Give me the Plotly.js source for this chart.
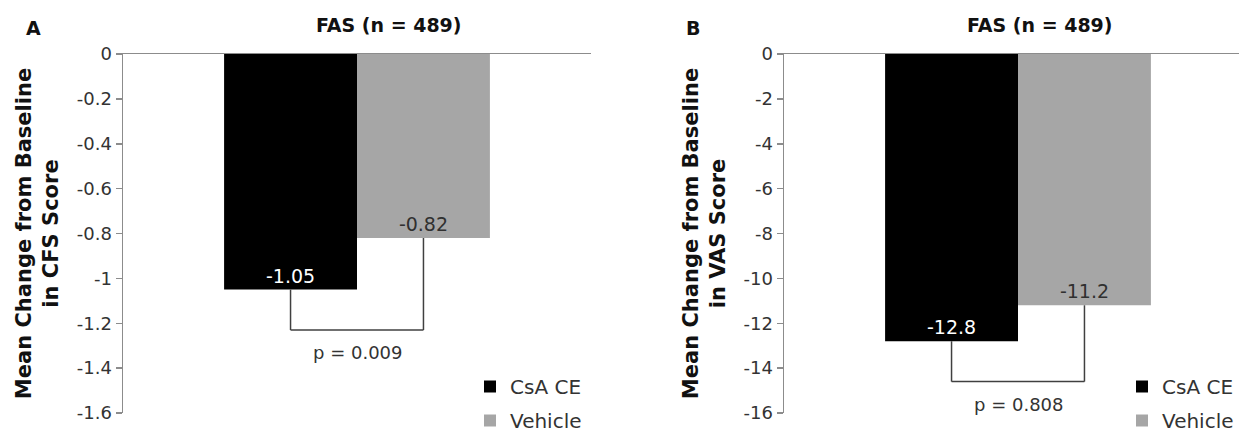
<!DOCTYPE html>
<html>
<head>
<meta charset="utf-8">
<script src="https://cdn.plot.ly/plotly-3.0.1.min.js"></script>
<style>html,body{margin:0;padding:0;overflow:hidden;background:#fff}</style>
</head>
<body>
<div id="chart" style="width:1239px;height:437px"></div>
<script>
// ---- data ----
const category = ['FAS'];
const seriesNames = ['CsA CE', 'Vehicle'];
const cfsValues = [-1.05, -0.82];
const vasValues = [-12.8, -11.2];
const cfsLabels = ['-1.05', '-0.82'];
const vasLabels = ['-12.8', '-11.2'];
const panelTitles = ['FAS (n = 489)', 'FAS (n = 489)'];
const panelLetters = ['A', 'B'];
const yTitles = ['Mean Change from Baseline<br>in CFS Score', 'Mean Change from Baseline<br>in VAS Score'];
const cfsTicks = [0, -0.2, -0.4, -0.6, -0.8, -1, -1.2, -1.4, -1.6];
const vasTicks = [0, -2, -4, -6, -8, -10, -12, -14, -16];
const pTexts = ['p = 0.009', 'p = 0.808'];
const bracketLevels = [-1.23, -14.6];
const pTextLevels = [-1.33, -15.6];

// ---- style ----
const barColors = ['#000000', '#a6a6a6'];
const labelColors = ['#ffffff', '#303030'];
const W = 1239, H = 437;
const MT = 54, MB = 24;
const PH = H - MT - MB;
const bargap = 0.432;
const font = 'DejaVu Sans, Liberation Sans, Arial, sans-serif';

const traces = [];
seriesNames.forEach((name, i) => {
  traces.push({
    type: 'bar', name: name, x: category, y: [cfsValues[i]],
    text: [cfsLabels[i]], textposition: 'inside', insidetextanchor: 'end',
    textfont: {color: labelColors[i], size: 19, family: font},
    marker: {color: barColors[i]}, xaxis: 'x', yaxis: 'y',
    legend: 'legend', legendgroup: 'a' + i, hoverinfo: 'none', cliponaxis: false
  });
});
seriesNames.forEach((name, i) => {
  traces.push({
    type: 'bar', name: name, x: category, y: [vasValues[i]],
    text: [vasLabels[i]], textposition: 'inside', insidetextanchor: 'end',
    textfont: {color: labelColors[i], size: 19, family: font},
    marker: {color: barColors[i]}, xaxis: 'x2', yaxis: 'y2',
    legend: 'legend2', legendgroup: 'b' + i, hoverinfo: 'none', cliponaxis: false
  });
});

// bar centre offsets derived from the group layout
const barW = (1 - bargap) / seriesNames.length;
const centers = seriesNames.map((_, i) => -0.5 + bargap / 2 + barW * (i + 0.5));

function bracket(xref, yref, vals, level) {
  const line = {color: '#404040', width: 1.5};
  return [
    {type: 'line', xref, yref, x0: centers[0], x1: centers[0], y0: vals[0], y1: level, line, layer: 'above'},
    {type: 'line', xref, yref, x0: centers[0], x1: centers[1], y0: level, y1: level, line, layer: 'above'},
    {type: 'line', xref, yref, x0: centers[1], x1: centers[1], y0: vals[1], y1: level, line, layer: 'above'}
  ];
}

const px = v => v / W;              // horizontal pixel -> paper
const py = v => (H - MB - v) / PH;  // vertical pixel -> paper
const aStart = 123, aEnd = 591, bStart = 784;
const domA = [px(aStart), px(aEnd)];
const domB = [px(bStart), 1];
const unitPx = aEnd - aStart;
const rangeBmax = -0.5 + (W - bStart) / unitPx;

const yaxisCommon = {
  showline: true, linecolor: '#8c8c8c', linewidth: 1.5, ticks: 'outside', ticklen: 6,
  tickcolor: '#8c8c8c', tickwidth: 1.5, showgrid: false, zeroline: false,
  tickfont: {size: 18, color: '#333333', family: font},
  title: {font: {size: 21, color: '#111111', family: font, weight: 'bold'}, standoff: 12}
};
const xaxisCommon = {
  type: 'category', side: 'top', showline: true, linecolor: '#8c8c8c', linewidth: 1.5,
  ticks: 'inside', tickson: 'boundaries', ticklen: 7, tickcolor: '#8c8c8c', tickwidth: 1.5,
  showticklabels: false, showgrid: false, zeroline: false, fixedrange: true
};
const legendCommon = {
  xanchor: 'left', yanchor: 'top', tracegroupgap: 5, y: py(367),
  font: {size: 20, color: '#333', family: font}, bgcolor: 'rgba(0,0,0,0)', itemwidth: 30
};

const layout = {
  width: W, height: H,
  margin: {l: 0, r: 0, t: MT, b: MB, autoexpand: false},
  paper_bgcolor: '#ffffff', plot_bgcolor: '#ffffff',
  barmode: 'group', bargap: bargap, bargroupgap: 0,
  font: {family: font, color: '#222'},
  showlegend: true,
  xaxis: Object.assign({}, xaxisCommon, {domain: domA, anchor: 'y', range: [-0.5, 0.5]}),
  xaxis2: Object.assign({}, xaxisCommon, {domain: domB, anchor: 'y2', range: [-0.5, rangeBmax]}),
  yaxis: Object.assign({}, yaxisCommon, {anchor: 'x', range: [-1.6, 0], tickvals: cfsTicks,
    ticktext: cfsTicks.map(String),
    title: Object.assign({}, yaxisCommon.title, {text: yTitles[0]})}),
  yaxis2: Object.assign({}, yaxisCommon, {anchor: 'x2', range: [-16, 0], tickvals: vasTicks,
    ticktext: vasTicks.map(String),
    title: Object.assign({}, yaxisCommon.title, {text: yTitles[1]})}),
  legend: Object.assign({}, legendCommon, {x: px(470)}),
  legend2: Object.assign({}, legendCommon, {x: px(1122)}),
  shapes: [].concat(bracket('x', 'y', cfsValues, bracketLevels[0]),
                    bracket('x2', 'y2', vasValues, bracketLevels[1])),
  annotations: [
    {xref: 'paper', yref: 'paper', x: px(389), y: py(25), text: '<b>' + panelTitles[0] + '</b>',
     showarrow: false, font: {size: 19, color: '#111', family: font}, xanchor: 'center', yanchor: 'middle'},
    {xref: 'paper', yref: 'paper', x: px(1040), y: py(25), text: '<b>' + panelTitles[1] + '</b>',
     showarrow: false, font: {size: 19, color: '#111', family: font}, xanchor: 'center', yanchor: 'middle'},
    {xref: 'paper', yref: 'paper', x: px(33), y: py(28), text: '<b>' + panelLetters[0] + '</b>',
     showarrow: false, font: {size: 19, color: '#111', family: font}, xanchor: 'center', yanchor: 'middle'},
    {xref: 'paper', yref: 'paper', x: px(693), y: py(28), text: '<b>' + panelLetters[1] + '</b>',
     showarrow: false, font: {size: 19, color: '#111', family: font}, xanchor: 'center', yanchor: 'middle'},
    {xref: 'x', yref: 'y', x: (centers[0] + centers[1]) / 2, y: pTextLevels[0], text: pTexts[0],
     showarrow: false, font: {size: 18, color: '#333', family: font}},
    {xref: 'x2', yref: 'y2', x: (centers[0] + centers[1]) / 2, y: pTextLevels[1], text: pTexts[1],
     showarrow: false, font: {size: 18, color: '#333', family: font}}
  ]
};

Plotly.newPlot('chart', traces, layout, {displayModeBar: false, staticPlot: true});
</script>
</body>
</html>
